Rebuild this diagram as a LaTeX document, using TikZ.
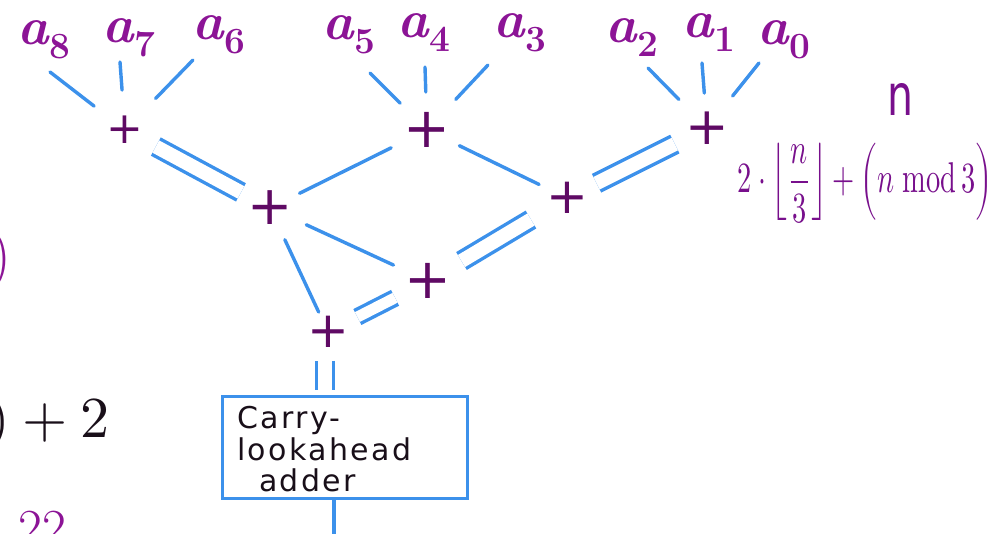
\documentclass[tikz,border=0pt]{standalone}
\usepackage{unicode-math}
\usepackage{graphicx}
\usetikzlibrary{calc}
\newfontfamily\plusfont{DejaVu Sans}
\newfontfamily\handfont{DejaVu Sans}[LetterSpace=8]
\definecolor{lblpurple}{RGB}{140,20,150}
\definecolor{pluspurple}{RGB}{95,10,100}
\definecolor{formpurple}{RGB}{120,15,140}
\definecolor{wireblue}{RGB}{60,145,235}
\definecolor{inkblack}{RGB}{25,15,25}
\tikzset{
  lbl/.style={anchor=base west, inner sep=0pt, text=lblpurple, font=\fontsize{53}{60}\selectfont\bfseries},
  plusnode/.style={inner sep=0pt, text=pluspurple},
  wire/.style={draw=wireblue, line width=3.4pt, line cap=round},
  dbl/.style={draw=wireblue, line width=3.4pt, double=white, double distance=14pt, line cap=butt},
  adderbox/.style={draw=wireblue, line width=3pt, text=inkblack, minimum width=245pt, minimum height=101pt,
    text width=215pt, inner xsep=15pt, align=left, font=\handfont\fontsize{30}{31.5}\selectfont}
}
\newcommand{\inp}[1]{\textit{a}\raisebox{-14pt}{\fontsize{37}{40}\selectfont #1}}
\begin{document}
\begin{tikzpicture}[x=1pt,y=-1pt]
\useasboundingbox (0,0) rectangle (996,534);
\fill[white] (0,0) rectangle (996,534);

% input labels
\node[lbl] (a8) at (17,45) {\inp{8}};
\node[lbl] (a7) at (102,43) {\inp{7}};
\node[lbl] (a6) at (192,40) {\inp{6}};
\node[lbl] (a5) at (322,40) {\inp{5}};
\node[lbl] (a4) at (397,38) {\inp{4}};
\node[lbl] (a3) at (493,38) {\inp{3}};
\node[lbl] (a2) at (605,43) {\inp{2}};
\node[lbl] (a1) at (682,38) {\inp{1}};
\node[lbl] (a0) at (757,45) {\inp{0}};

% plus nodes
\node[plusnode, font=\plusfont\fontsize{44}{50}\selectfont] (p1) at (125,130) {+};
\node[plusnode, font=\plusfont\fontsize{56}{60}\selectfont] (p2) at (427,130) {+};
\node[plusnode, font=\plusfont\fontsize{52}{60}\selectfont] (p3) at (707,128) {+};
\node[plusnode, font=\plusfont\fontsize{54}{60}\selectfont] (p4) at (270,208) {+};
\node[plusnode, font=\plusfont\fontsize{50}{60}\selectfont] (p5) at (567,198) {+};
\node[plusnode, font=\plusfont\fontsize{56}{60}\selectfont] (p6) at (428,281) {+};
\node[plusnode, font=\plusfont\fontsize{50}{60}\selectfont] (p7) at (328,332) {+};

% label wire starts
\coordinate (t8) at (50,72);
\coordinate (t7) at (120,62);
\coordinate (t6) at (193,60);
\coordinate (t5) at (370,73);
\coordinate (t4) at (425,67);
\coordinate (t3) at (488,65);
\coordinate (t2) at (648,68);
\coordinate (t1) at (702,63);
\coordinate (t0) at (759,63);

\draw[wire, shorten >=39pt] (t8) -- (p1.center);
\draw[wire, shorten >=40pt] (t7) -- (p1.center);
\draw[wire, shorten >=44pt] (t6) -- (p1.center);
\draw[wire, shorten >=38pt] (t5) -- (p2.center);
\draw[wire, shorten >=38pt] (t4) -- (p2.center);
\draw[wire, shorten >=42pt] (t3) -- (p2.center);
\draw[wire, shorten >=40pt] (t2) -- (p3.center);
\draw[wire, shorten >=35pt] (t1) -- (p3.center);
\draw[wire, shorten >=41pt] (t0) -- (p3.center);

% tree wires
\draw[dbl, shorten <=35pt, shorten >=33pt] (p1.center) -- (p4.center);
\draw[wire, shorten <=40pt, shorten >=33pt] (p2.center) -- (p4.center);
\draw[wire, shorten <=36pt, shorten >=31pt] (p2.center) -- (p5.center);
\draw[dbl, shorten <=36pt, shorten >=33pt] (p3.center) -- (p5.center);
\draw[wire, shorten <=40pt, shorten >=38pt] (p4.center) -- (p6.center);
\draw[wire, shorten <=35pt, shorten >=22pt] (p4.center) -- (p7.center);
\draw[dbl, shorten <=42pt, shorten >=39pt] (p5.center) -- (p6.center);
\draw[dbl, double distance=11pt, shorten <=37pt, shorten >=33pt] (p6.center) -- (p7.center);

% carry-lookahead adder
\node[adderbox] (cla) at (344.5,447.5) {\rule{0pt}{26pt}Carry-\\lookahead\\\hspace*{22pt}adder};
\draw[dbl, shorten <=29pt, shorten >=5pt] ([xshift=-3pt]p7.center) -- ([xshift=-3pt]p7.center |- cla.north);
\coordinate (out) at (334,540);
\draw[wire, line cap=butt] (cla.south -| out) -- (out);

% right annotations
\node[text=formpurple, inner sep=0pt] (nlabel) at (900,99) {\resizebox*{26pt}{32pt}{\plusfont n}};
\node[text=formpurple, inner sep=0pt] (formula) at (865,183)
  {\resizebox*{255pt}{80pt}{$2\cdot\left\lfloor\dfrac{n}{3}\right\rfloor+\left(n\;\mathrm{mod}\,3\vphantom{\dfrac{n}{3}}\right)$}};

% partially visible texts at the left edge
\node[text=lblpurple, anchor=east, inner sep=0pt, font=\fontsize{62}{70}\selectfont] (lparen) at (12,260) {)};
\node[text=inkblack, anchor=base east, inner sep=0pt, font=\fontsize{58}{60}\selectfont] (tailexpr) at (110,437) {$n)+2$};
\node[text=lblpurple, anchor=base west, inner sep=0pt, font=\fontsize{52}{60}\selectfont] (bottomnum) at (18,545) {22};
\end{tikzpicture}
\end{document}
